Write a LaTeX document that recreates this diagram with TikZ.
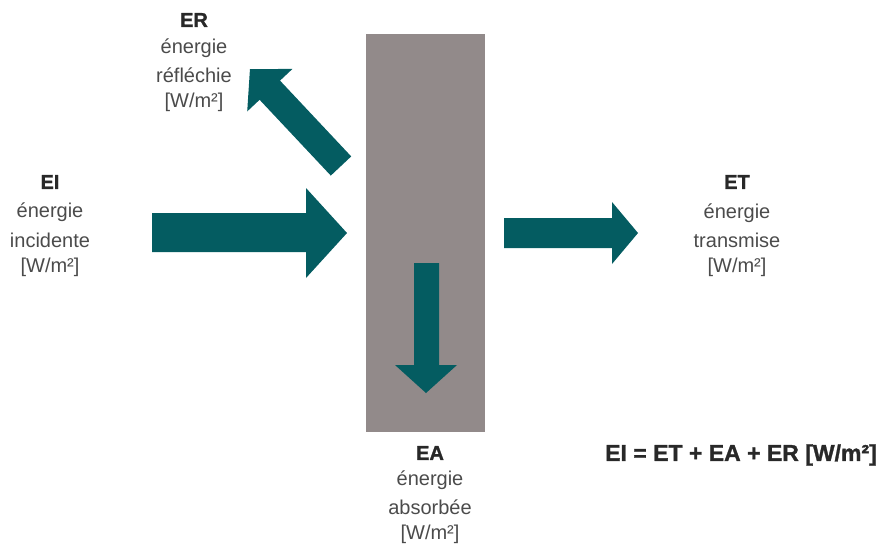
\documentclass[tikz,border=0pt]{standalone}
\usepackage{fontspec}
\setmainfont{Liberation Sans}
\newfontfamily\heavy[BoldFeatures={FakeBold=1.3}]{Liberation Sans}
\definecolor{teal1}{RGB}{4,92,97}
\definecolor{slab}{RGB}{146,138,138}
\definecolor{ttl}{RGB}{40,40,40}
\definecolor{txt}{RGB}{75,75,75}
\tikzset{
  ttlnode/.style={inner sep=0pt, text=ttl, font=\fontsize{20}{24}\selectfont\heavy\bfseries},
  txtnode/.style={inner sep=0pt, text=txt, font=\fontsize{20}{24}\selectfont},
  eqnode/.style={inner sep=0pt, text=ttl, font=\fontsize{23}{26}\selectfont\heavy\bfseries},
  blockarrow/.style={fill=teal1, draw=none}
}
\begin{document}
\begin{tikzpicture}[x=1pt,y=-1pt]
\useasboundingbox (0,0) rectangle (878,552);
% slab
\fill[slab] (366,34) rectangle (485,432);
% EI arrow
\fill[blockarrow] (152,213) -- (306,213) -- (306,188) -- (347,233) -- (306,278) -- (306,252) -- (152,252) -- cycle;
% ET arrow
\fill[blockarrow] (504,218) -- (612,218) -- (612,202) -- (638,233) -- (612,264) -- (612,248) -- (504,248) -- cycle;
% EA arrow
\fill[blockarrow] (414,263) -- (439,263) -- (439,365) -- (457,365) -- (426,393) -- (395,365) -- (414,365) -- cycle;
% ER arrow
\begin{scope}[shift={(341,166)}, rotate=133.2]
\fill[blockarrow] (0,-14) -- (104,-14) -- (104,-31) -- (133,0) -- (104,31) -- (104,14) -- (0,14) -- cycle;
\end{scope}
% EI text
\node[ttlnode] (ei1) at (50,182) {EI};
\node[txtnode] (ei2) at (50,212) {énergie};
\node[txtnode] (ei3) at (50,240) {incidente};
\node[txtnode] (ei4) at (50,267) {[W/m²]};
% ER text
\node[ttlnode] (er1) at (194,20) {ER};
\node[txtnode] (er2) at (194,48) {énergie};
\node[txtnode] (er3) at (194,75) {réfléchie};
\node[txtnode] (er4) at (194,102) {[W/m²]};
% ET text
\node[ttlnode] (et1) at (737,182) {ET};
\node[txtnode] (et2) at (737,213) {énergie};
\node[txtnode] (et3) at (737,240) {transmise};
\node[txtnode] (et4) at (737,267) {[W/m²]};
% EA text
\node[ttlnode] (ea1) at (430,453) {EA};
\node[txtnode] (ea2) at (430,480) {énergie};
\node[txtnode] (ea3) at (430,507) {absorbée};
\node[txtnode] (ea4) at (430,534) {[W/m²]};
% equation
\node[eqnode, anchor=east] (eq) at (877,455) {EI = ET + EA + ER [W/m²]};
\end{tikzpicture}
\end{document}
